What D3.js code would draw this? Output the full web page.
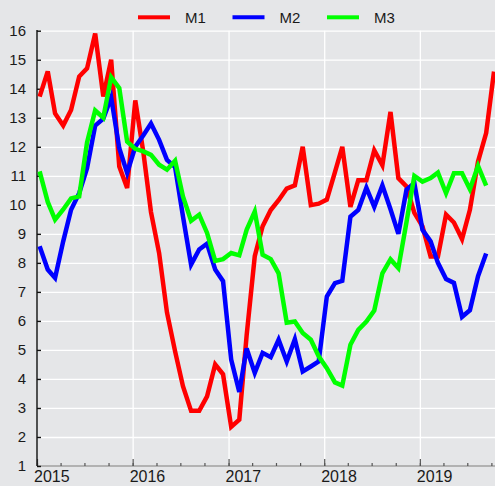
<!DOCTYPE html>
<html>
<head>
<meta charset="utf-8">
<script src="https://cdn.jsdelivr.net/npm/d3@7"></script>
<style>
  html, body { margin: 0; padding: 0; background: #e5e6e8; }
  svg { display: block; font-family: "Liberation Sans", Arial, sans-serif; }
</style>
</head>
<body>
<div id="chart"></div>
<script>
//monthly values, first value is Jan 2015
const m1 = [13.73, 14.6, 13.15, 12.73, 13.27, 14.42, 14.7, 15.9, 13.73, 15.0, 11.32, 10.58,
    13.6, 11.8, 9.75, 8.34, 6.29, 4.95, 3.75, 2.9, 2.9, 3.4, 4.5, 4.16,
    2.35, 2.6, 5.5, 8.23, 9.26, 9.82, 10.16, 10.56, 10.67, 12.0, 9.99, 10.04,
    10.18, 11.13, 12.0, 9.93, 10.85, 10.85, 11.88, 11.36, 13.2, 10.92, 10.63, 9.72,
    9.26, 8.22, 8.22, 9.66, 9.39, 8.82, 9.83, 11.49, 12.47, 14.59];
const m2 = [8.57, 7.77, 7.48, 8.74, 9.83, 10.4, 11.26, 12.73, 12.97, 13.7, 11.95, 11.1,
    12.0, 12.4, 12.8, 12.24, 11.55, 11.3, 9.6, 7.94, 8.46, 8.66, 7.77, 7.37,
    4.67, 3.55, 5.05, 4.21, 4.9, 4.75, 5.35, 4.6, 5.37, 4.26, 4.43, 4.6,
    6.84, 7.3, 7.38, 9.59, 9.82, 10.59, 9.93, 10.67, 9.85, 9.0, 10.52, 10.75,
    9.14, 8.74, 8.0, 7.44, 7.31, 6.14, 6.37, 7.54, 8.32];
const m3 = [11.15, 10.1, 9.49, 9.84, 10.22, 10.29, 12.15, 13.25, 13.0, 14.4, 14.02, 12.18,
    11.93, 11.84, 11.72, 11.38, 11.21, 11.52, 10.29, 9.45, 9.66, 9.03, 8.07, 8.13,
    8.34, 8.26, 9.14, 9.77, 8.28, 8.13, 7.64, 5.94, 5.98, 5.58, 5.35, 4.78,
    4.37, 3.88, 3.77, 5.18, 5.69, 5.98, 6.36, 7.64, 8.12, 7.82, 9.4, 11.0,
    10.8, 10.92, 11.11, 10.4, 11.09, 11.09, 10.54, 11.34, 10.66];

const seriesNames = ["M1", "M2", "M3"];
const seriesColors = ["#ff0000", "#0000ff", "#00ff00"];
const yTicks = [1, 2, 3, 4, 5, 6, 7, 8, 9, 10, 11, 12, 13, 14, 15, 16];
const years = [2015, 2016, 2017, 2018, 2019];
const firstMonth = new Date(2015, 0, 1);

//svg dimensions
const width = 495;
const height = 486;
const marginLeft = 37;
const plotTop = 30.7;
const plotBottom = 466;

let svg = d3.select("#chart")
    .append("svg")
    .attr("width", width)
    .attr("height", height);

//scales
let xScale = d3.scaleTime()
    .domain([new Date(2015, 0, 1), new Date(2020, 0, 1)])
    .range([marginLeft, marginLeft + 5 * 95.7]);
let yScale = d3.scaleLinear()
    .domain([1, 16])
    .range([plotBottom, plotTop]);

//points sit roughly a third into each month
const monthDate = i => d3.timeDay.offset(d3.timeMonth.offset(firstMonth, i), 10);
const yearDates = years.map(y => new Date(y, 0, 1));

//horizontal grid
svg.append("g")
    .attr("transform", "translate(" + marginLeft + ",0)")
    .call(d3.axisLeft(yScale).tickValues(yTicks.slice(1)).tickSize(-(width - marginLeft)).tickFormat(""))
    .call(g => g.select(".domain").remove())
    .call(g => g.selectAll("line").attr("stroke", "#ffffff").attr("stroke-width", 1.3));

//vertical grid at the years
svg.append("g")
    .attr("transform", "translate(0," + plotBottom + ")")
    .call(d3.axisBottom(xScale).tickValues(yearDates.slice(1)).tickSize(-(plotBottom - plotTop)).tickFormat(""))
    .call(g => g.select(".domain").remove())
    .call(g => g.selectAll("line").attr("stroke", "#ffffff").attr("stroke-width", 1.3));

//bottom axis line
svg.append("line")
    .attr("x1", marginLeft).attr("x2", width)
    .attr("y1", plotBottom).attr("y2", plotBottom)
    .attr("stroke", "#a0a0a0")
    .attr("stroke-width", 1.3);

//quarter ticks
svg.append("g")
    .attr("transform", "translate(0," + plotBottom + ")")
    .call(d3.axisBottom(xScale).ticks(d3.timeMonth.every(3)).tickSize(-3).tickFormat(""))
    .call(g => g.select(".domain").remove())
    .call(g => g.selectAll("line").attr("stroke", "#555555").attr("stroke-width", 1.2));

//year ticks and labels (kept just inside the bottom edge)
svg.append("g")
    .attr("transform", "translate(0," + plotBottom + ")")
    .call(d3.axisBottom(xScale).tickValues(yearDates).tickSize(-7).tickPadding(5).tickFormat(d3.timeFormat("%Y")))
    .call(g => g.select(".domain").remove())
    .call(g => g.selectAll("line").attr("stroke", "#555555").attr("stroke-width", 1.2))
    .call(g => g.selectAll("text")
        .attr("x", -3.5)
        .attr("text-anchor", "start")
        .attr("fill", "#1a1a1a")
        .style("font-size", "16px"));

//left axis
svg.append("g")
    .attr("transform", "translate(" + marginLeft + ",0)")
    .call(d3.axisLeft(yScale).tickValues(yTicks).tickSize(-4).tickPadding(11))
    .call(g => g.select(".domain").attr("d", "M0," + (plotTop - 0.7) + "V" + plotBottom).attr("stroke", "#111111").attr("stroke-width", 1.4))
    .call(g => g.selectAll("line").attr("stroke", "#111111").attr("stroke-width", 1.4))
    .call(g => g.selectAll("text").attr("fill", "#1a1a1a").style("font-size", "15px"));

//series lines
const line = d3.line()
    .x((d, i) => xScale(monthDate(i)))
    .y(d => yScale(d));

const series = [m1, m2, m3];

svg.append("g")
    .selectAll("path")
    .data(series)
    .enter()
    .append("path")
    .attr("d", d => line(d))
    .attr("fill", "none")
    .attr("stroke", (d, i) => seriesColors[i])
    .attr("stroke-width", 4.5)
    .attr("stroke-linejoin", "miter");

//legend
let legend = svg.append("g")
    .selectAll("g")
    .data(seriesNames)
    .enter()
    .append("g")
    .attr("transform", (d, i) => "translate(" + (138 + i * 94.5) + ",17.3)");

legend.append("line")
    .attr("x1", 0).attr("x2", 32)
    .attr("stroke", (d, i) => seriesColors[i])
    .attr("stroke-width", 4);

legend.append("text")
    .attr("x", 47)
    .attr("y", 5.6)
    .attr("fill", "#1a1a1a")
    .style("font-size", "15px")
    .text(d => d);
</script>
</body>
</html>
